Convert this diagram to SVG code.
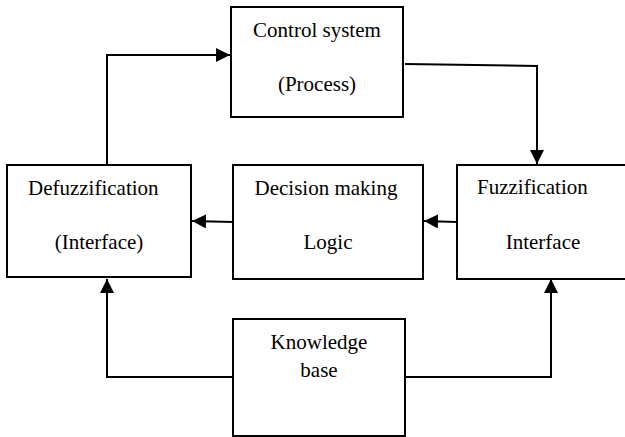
<svg xmlns="http://www.w3.org/2000/svg" width="625" height="437" viewBox="0 0 625 437">
<style>
.box{fill:#fff;stroke:#000;stroke-width:2}
.t{font-size:21px;fill:#000}
.c{text-anchor:middle}
.ln{fill:none;stroke:#000;stroke-width:2}
</style>
<defs>
<marker id="ah" viewBox="0 0 14 14" refX="14" refY="7" markerWidth="14" markerHeight="14" markerUnits="userSpaceOnUse" orient="auto">
<path d="M0,0 L14,7 L0,14 Z" fill="#000"/>
</marker>
</defs>
<rect width="625" height="437" fill="#fff"/>
<g font-family="'Liberation Serif', 'Times New Roman', Tinos, 'DejaVu Serif', serif">
<g id="control">
<rect class="box" x="231" y="7" width="172" height="110"/>
<text class="t c" x="317" y="37">Control system</text>
<text class="t c" x="317" y="91">(Process)</text>
</g>
<g id="defuzz">
<rect class="box" x="7" y="165" width="184" height="112"/>
<text class="t" x="28" y="195">Defuzzification</text>
<text class="t c" x="99" y="249">(Interface)</text>
</g>
<g id="decision">
<rect class="box" x="233" y="165" width="190" height="114"/>
<text class="t c" x="326" y="195">Decision making</text>
<text class="t c" x="328" y="249">Logic</text>
</g>
<g id="fuzz">
<rect class="box" x="457" y="165" width="172" height="114"/>
<text class="t" x="477" y="194">Fuzzification</text>
<text class="t c" x="543" y="249">Interface</text>
</g>
<g id="knowledge">
<rect class="box" x="233" y="319" width="172" height="117"/>
<text class="t c" x="319" y="349">Knowledge</text>
<text class="t c" x="319" y="377">base</text>
</g>
</g>
<g id="connectors">
<polyline class="ln" points="107,165 107,55 230,55" marker-end="url(#ah)"/>
<polyline class="ln" points="405,64 537,66 537,164" marker-end="url(#ah)"/>
<line class="ln" x1="233" y1="222" x2="192" y2="221" marker-end="url(#ah)"/>
<line class="ln" x1="457" y1="222" x2="424" y2="221" marker-end="url(#ah)"/>
<polyline class="ln" points="233,377 107,377 107,279" marker-end="url(#ah)"/>
<polyline class="ln" points="405,377 551,377 551,279" marker-end="url(#ah)"/>
</g>
</svg>
